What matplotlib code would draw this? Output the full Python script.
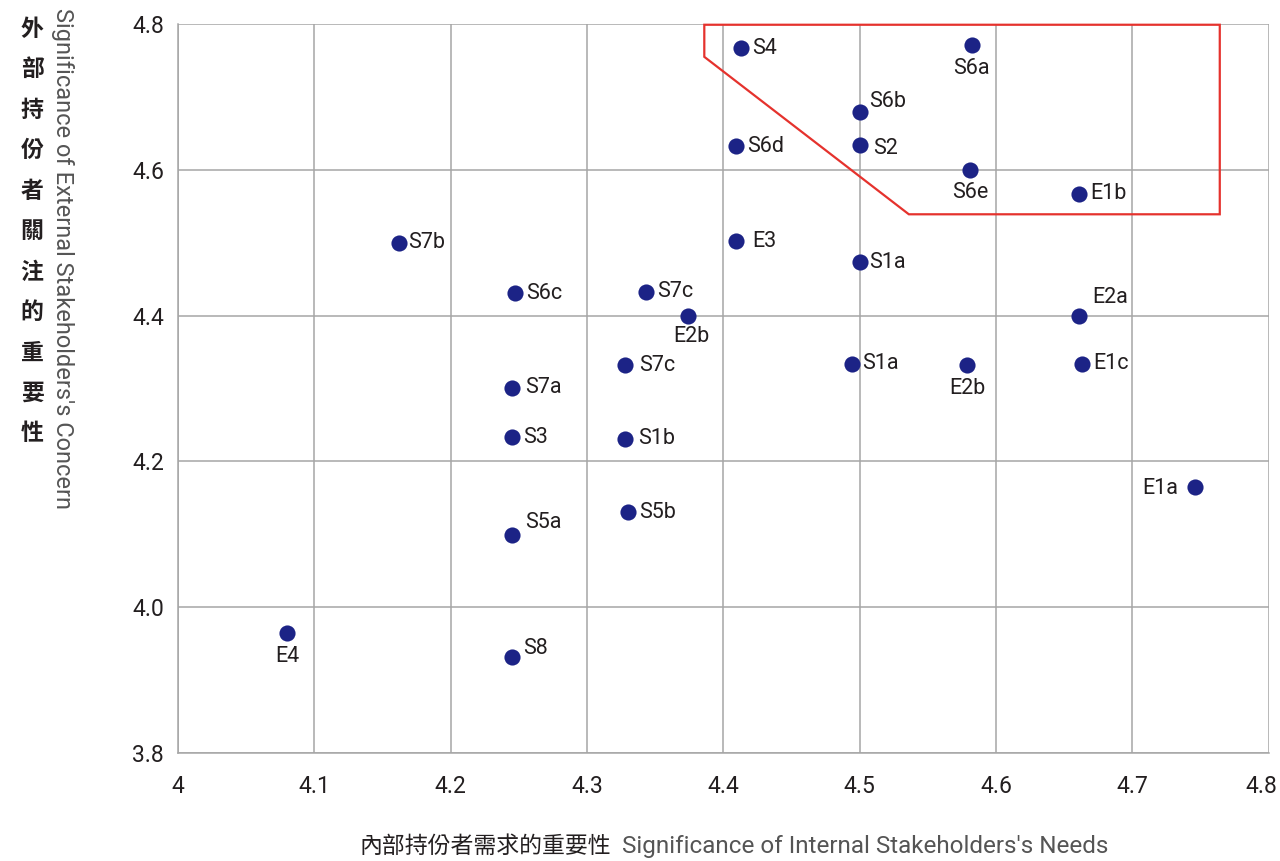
import matplotlib
matplotlib.use('Agg')
import matplotlib.pyplot as plt
import matplotlib.transforms as mtransforms
from matplotlib.patches import Polygon

plt.rcParams['font.family'] = ['Roboto', 'Noto Sans CJK TC', 'DejaVu Sans']

# issue codes and their scores (internal needs, external concern)
names = ['S4', 'S6a', 'S6b', 'S2', 'S6d', 'S6e', 'E1b', 'S7b', 'E3', 'S1a',
         'S6c', 'S7c', 'E2b', 'E2a', 'S7c', 'S1a', 'E2b', 'E1c', 'S7a', 'S3',
         'S1b', 'E1a', 'S5b', 'S5a', 'E4', 'S8']
internal = [4.413, 4.582, 4.500, 4.500, 4.409, 4.581, 4.661, 4.162, 4.409, 4.500,
            4.247, 4.343, 4.374, 4.661, 4.328, 4.494, 4.579, 4.663, 4.245, 4.245,
            4.328, 4.746, 4.330, 4.245, 4.080, 4.245]
external = [4.767, 4.771, 4.679, 4.634, 4.632, 4.600, 4.567, 4.500, 4.502, 4.473,
            4.431, 4.433, 4.400, 4.400, 4.332, 4.334, 4.332, 4.334, 4.301, 4.233,
            4.231, 4.165, 4.130, 4.099, 3.964, 3.932]

# highlighted material region outline
region_x = [4.386, 4.386, 4.536, 4.764, 4.764]
region_y = [4.799, 4.755, 4.539, 4.539, 4.799]

x_ticks = [4.0, 4.1, 4.2, 4.3, 4.4, 4.5, 4.6, 4.7, 4.8]
x_tick_labels = ['4', '4.1', '4.2', '4.3', '4.4', '4.5', '4.6', '4.7', '4.8']
y_ticks = [3.8, 4.0, 4.2, 4.4, 4.6, 4.8]
y_tick_labels = ['3.8', '4.0', '4.2', '4.4', '4.6', '4.8']

# label placement: (dx, dy in pixels, ha, va)
R = (11, 0, 'left', 'center')
B = (0, -23, 'center', 'center')
placement = [R, B, (9, 11, 'left', 'center'), (13, -3, 'left', 'center'),
             R, B, R, (9, 0, 'left', 'center'), (17, 0, 'left', 'center'),
             (9, 0, 'left', 'center'), R, R, (3, -21, 'center', 'center'),
             (13, 18, 'left', 'center'), (14, 0, 'left', 'center'), R,
             (0, -23, 'center', 'center'), R, (13, 0, 'left', 'center'), R,
             (13, 0, 'left', 'center'), (-17, -2, 'right', 'center'), R,
             (13, 13, 'left', 'center'), (0, -23, 'center', 'center'),
             (11, 8, 'left', 'center')]

fig = plt.figure(figsize=(12.8, 8.61), dpi=100)
ax = fig.add_axes([0.139, 0.1254, 0.8523, 0.8467])

ax.scatter(internal, external, s=135, color='#1c2386', zorder=3, linewidths=0)
for n, xv, yv, (dx, dy, ha, va) in zip(names, internal, external, placement):
    ax.annotate(n, (xv, yv), xytext=(dx, dy), textcoords='offset pixels',
                ha=ha, va=va, fontsize=15.5, color='#231f20', zorder=4)

ax.add_patch(Polygon(list(zip(region_x, region_y)), closed=True, fill=False,
                     edgecolor='#e5322d', linewidth=1.6, zorder=2, clip_on=False))

ax.set_xlim(4.0, 4.8)
ax.set_ylim(3.8, 4.8)
ax.set_xticks(x_ticks)
ax.set_xticklabels(x_tick_labels)
ax.set_yticks(y_ticks)
ax.set_yticklabels(y_tick_labels)
ax.tick_params(length=0, labelsize=16.5, labelcolor='#231f20')
ax.tick_params(axis='x', pad=16)
ax.tick_params(axis='y', pad=10)
last = ax.get_xticklabels()[-1]
last.set_transform(last.get_transform() +
                   mtransforms.ScaledTranslation(-0.07, 0, fig.dpi_scale_trans))
ax.grid(True, color='#a6a6a6', linewidth=1.1)
ax.set_axisbelow(True)
for side in ['top', 'right']:
    ax.spines[side].set_visible(False)
for side in ['left', 'bottom']:
    ax.spines[side].set_color('#a6a6a6')
    ax.spines[side].set_linewidth(1.1)

# y axis titles
cn_y = '外部持份者關注的重要性'
for i, ch in enumerate(cn_y):
    fig.text(0.025, 0.966 - i * 0.047, ch, ha='center', va='center',
             fontsize=16.5, fontweight='bold', color='#231f20',
             family=['Noto Sans CJK TC', 'DejaVu Sans'])
fig.text(0.049, 0.991, "Significance of External Stakeholders's Concern",
         rotation=-90, ha='center', va='top', fontsize=17, color='#555555')

# x axis titles
fig.text(0.2805, 0.017, '內部持份者需求的重要性', ha='left', va='center',
         fontsize=16.5, fontweight='medium', color='#231f20',
         family=['Noto Sans CJK TC', 'DejaVu Sans'])
fig.text(0.486, 0.017, "Significance of Internal Stakeholders's Needs",
         ha='left', va='center', fontsize=17.5, color='#555555')

fig.savefig('out.png', dpi=100)
